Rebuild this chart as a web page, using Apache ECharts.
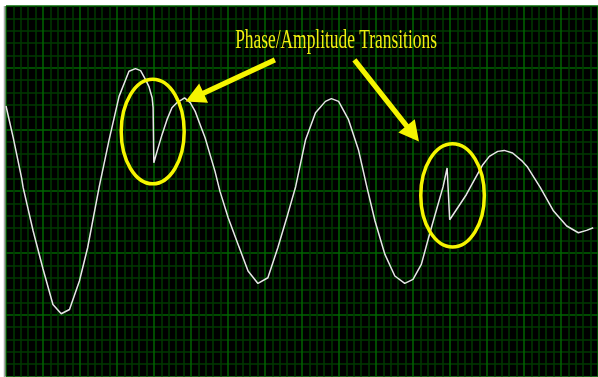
<!DOCTYPE html>
<html>
<head>
<meta charset="utf-8">
<script src="https://cdn.jsdelivr.net/npm/echarts@6/dist/echarts.min.js"></script>
<style>
html,body{margin:0;padding:0;background:#ffffff;overflow:hidden;}
#c{width:598px;height:377px;}
</style>
</head>
<body>
<div id="c"></div>
<script>
// time axis (major divisions) and signal amplitude (major divisions)
const timeVals = [0, 0.196, 0.421, 0.464, 0.732, 0.999, 1.268, 1.493, 1.716, 1.984, 2.206, 2.520, 2.788, 3.056, 3.324, 3.499, 3.638, 3.772, 3.861, 3.949, 3.976, 3.995, 4.083, 4.217, 4.351, 4.485, 4.619, 4.753, 4.826, 4.979, 5.113, 5.247, 5.381, 5.515, 5.649, 5.783, 6.005, 6.273, 6.542, 6.810, 7.078, 7.346, 7.614, 7.828, 8.097, 8.365, 8.633, 8.794, 8.989, 9.257, 9.525, 9.751, 9.973, 10.241, 10.509, 10.777, 11.000, 11.225, 11.456, 11.635, 11.815, 11.922, 11.992, 12.172, 12.440, 12.662, 12.887, 13.064, 13.290, 13.466, 13.692, 13.960, 14.083, 14.442, 14.799, 15.155, 15.469, 15.692, 15.871];
const signalVals = [1.38, 0.864, 0.216, 0.057, -0.640, -1.256, -1.835, -1.985, -1.916, -1.455, -0.916, 0.073, 0.835, 1.536, 1.942, 1.985, 1.953, 1.807, 1.699, 1.515, 1.353, 0.462, 0.645, 0.916, 1.159, 1.353, 1.434, 1.483, 1.511, 1.434, 1.293, 1.078, 0.867, 0.592, 0.321, -0.003, -0.429, -0.862, -1.293, -1.494, -1.402, -0.916, -0.376, 0.073, 0.835, 1.272, 1.455, 1.499, 1.455, 1.159, 0.673, 0.073, -0.483, -1.024, -1.374, -1.494, -1.429, -1.186, -0.677, -0.300, 0.078, 0.376, -0.462, -0.300, -0.057, 0.186, 0.429, 0.564, 0.645, 0.661, 0.619, 0.483, 0.402, 0.057, -0.321, -0.564, -0.673, -0.635, -0.592];

// annotations (in axis units)
const labelText = 'Phase/Amplitude Transitions';
const labelAnchor = [6.193, 2.441];
const circleCenters = [[3.965, 0.966], [12.069, -0.068]];
const circleRadii = [[0.851, 0.846], [0.859, 0.835]];
const arrowTails = [[7.268, 2.127], [9.416, 2.127]];
const arrowTips = [[4.851, 1.452], [11.161, 0.804]];

const X_MIN = 0, X_MAX = 16, Y_MIN = -3, Y_MAX = 3;

const chart = echarts.init(document.getElementById('c'), null, {renderer: 'canvas'});

function gridAxis(min, max) {
  return {
    type: 'value', min: min, max: max, interval: 1,
    axisLine: {show: false}, axisTick: {show: false}, axisLabel: {show: false},
    splitLine: {show: true, lineStyle: {color: '#006400', width: 1.5}},
    minorTick: {show: false, splitNumber: 5},
    minorSplitLine: {show: true, lineStyle: {color: '#003a00', width: 1.5}}
  };
}

chart.setOption({
  animation: false,
  backgroundColor: '#ffffff',
  grid: {left: 6, right: -4, top: 6, bottom: 0.6, show: true, backgroundColor: '#000000', borderWidth: 0},
  xAxis: gridAxis(X_MIN, X_MAX),
  yAxis: gridAxis(Y_MIN, Y_MAX),
  series: [{
    type: 'line',
    data: timeVals.map((t, i) => [t, signalVals[i]]),
    showSymbol: false, symbol: 'none',
    smooth: false,
    lineStyle: {color: '#e6e6e6', width: 1.5},
    z: 3
  }]
});

const toPx = p => chart.convertToPixel({gridIndex: 0}, p);
const graphics = [];

// gray left frame edge
graphics.push({type: 'line', shape: {x1: 4.5, y1: 6, x2: 4.5, y2: 377}, style: {stroke: '#a8a8a8', lineWidth: 1.5}, z: 10});

circleCenters.forEach((c, i) => {
  const p = toPx(c);
  const px2 = toPx([c[0] + circleRadii[i][0], c[1] + circleRadii[i][1]]);
  graphics.push({
    type: 'ellipse',
    shape: {cx: p[0], cy: p[1], rx: Math.abs(px2[0] - p[0]), ry: Math.abs(px2[1] - p[1])},
    style: {fill: null, stroke: '#f5f500', lineWidth: 3.5},
    z: 20
  });
});

arrowTails.forEach((t, i) => {
  const T = toPx(t), P = toPx(arrowTips[i]);
  const dx = P[0] - T[0], dy = P[1] - T[1];
  const L = Math.hypot(dx, dy);
  const ux = dx / L, uy = dy / L, nx = -uy, ny = ux;
  const headLen = 20, headHalf = 10.5, shaftHalf = 2.6;
  const B = [P[0] - ux * headLen, P[1] - uy * headLen];
  graphics.push({
    type: 'polygon',
    shape: {points: [
      [T[0] + nx * shaftHalf, T[1] + ny * shaftHalf],
      [B[0] + nx * shaftHalf, B[1] + ny * shaftHalf],
      [B[0] + nx * headHalf, B[1] + ny * headHalf],
      [P[0], P[1]],
      [B[0] - nx * headHalf, B[1] - ny * headHalf],
      [B[0] - nx * shaftHalf, B[1] - ny * shaftHalf],
      [T[0] - nx * shaftHalf, T[1] - ny * shaftHalf]
    ]},
    style: {fill: '#f5f500'},
    z: 20
  });
});

const la = toPx(labelAnchor);
graphics.push({
  type: 'text',
  x: la[0], y: la[1],
  originX: 0, originY: 0,
  scaleY: 1.55,
  style: {
    text: labelText,
    font: '17.4px "Liberation Serif"',
    fill: '#eeee10',
    align: 'left',
    verticalAlign: 'middle'
  },
  z: 20
});

chart.setOption({graphic: graphics});
</script>
</body>
</html>
